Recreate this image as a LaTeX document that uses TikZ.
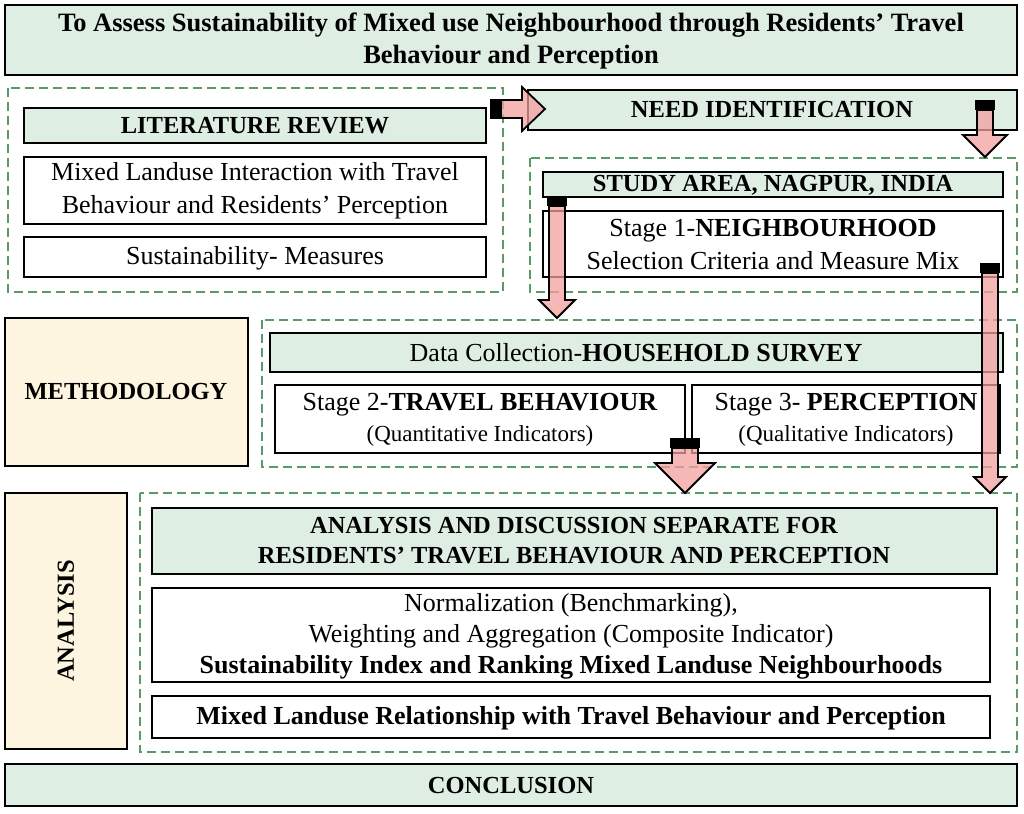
\documentclass[tikz,border=0pt]{standalone}
\usepackage{fontspec}
\setmainfont{Liberation Serif}
\definecolor{gfill}{HTML}{DFEEE3}
\definecolor{gdash}{HTML}{5A9A6A}
\definecolor{cream}{HTML}{FDF5E0}
\definecolor{pinkar}{HTML}{F4A0A0}
\newcommand{\arrdown}[5]{% x, ytop, ybot, bodyhalf, headhalf
  \fill[black] (#1-#4-2,#2) rectangle (#1+#4+2,#2+10);
  \draw[line width=1.8pt,fill=pinkar,fill opacity=0.75] (#1-#4,#2+10) -- (#1+#4,#2+10) -- (#1+#4,#3-#5) -- (#1+#5,#3-#5) -- (#1,#3) -- (#1-#5,#3-#5) -- (#1-#4,#3-#5) -- cycle;}
\begin{document}
\begin{tikzpicture}[x=1pt,y=-1pt,
  box/.style={draw,line width=1.2pt,inner sep=0pt},
  gbox/.style={box,fill=gfill},
  grp/.style={draw=gdash,dashed,line width=1.3pt,dash pattern=on 9pt off 5pt},
  txt/.style={font=\fontsize{26}{33}\selectfont,align=center},
  btxt/.style={font=\fontsize{24.5}{30}\selectfont\bfseries,align=center}]
\useasboundingbox (0,0) rectangle (1024,813);
\fill[white] (0,0) rectangle (1024,813);
% groups
\draw[grp] (8,88) rectangle (503,292);
\draw[grp] (530,158) rectangle (1017,292);
\draw[grp] (262,320) rectangle (1017,467);
\draw[grp] (140,493) rectangle (1017,752);
% boxes
\draw[gbox] (5,5) rectangle (1017,75);
\node[btxt,font=\fontsize{26.5}{32}\selectfont\bfseries] (title) at (511,41) {To Assess Sustainability of Mixed use Neighbourhood through Residents’ Travel\\Behaviour and Perception};
\draw[gbox] (24,108) rectangle (486,143);
\node[btxt] (lit) at (255,126) {LITERATURE REVIEW};
\draw[box] (24,157) rectangle (486,224);
\node[txt] (mix) at (255,191) {Mixed Landuse Interaction with Travel\\Behaviour and Residents’ Perception};
\draw[box] (24,237) rectangle (486,277);
\node[txt] (sus) at (255,258) {Sustainability- Measures};
\draw[gbox] (528,90) rectangle (1017,130);
\node[btxt] (need) at (772,110) {NEED IDENTIFICATION};
\draw[gbox] (543,172) rectangle (1003,197);
\node[btxt] (study) at (773,185) {STUDY AREA, NAGPUR, INDIA};
\draw[box] (543,211) rectangle (1003,277);
\node[txt] (st1) at (773,245) {Stage 1-\textbf{NEIGHBOURHOOD}\\Selection Criteria and Measure Mix};
\draw[box,fill=cream] (5,318) rectangle (248,466);
\node[btxt] (meth) at (126,392) {METHODOLOGY};
\draw[gbox] (270,333) rectangle (1003,372);
\node[txt] (data) at (636,353) {Data Collection-\textbf{HOUSEHOLD SURVEY}};
\draw[box] (275,385) rectangle (685,453);
\node[txt,font=\fontsize{26}{31}\selectfont] (st2) at (480,420) {Stage 2-\textbf{TRAVEL BEHAVIOUR}\\{\fontsize{23}{28}\selectfont(Quantitative Indicators)}};
\draw[box] (692,385) rectangle (1000,453);
\node[txt,font=\fontsize{26}{31}\selectfont] (st3) at (846,420) {Stage 3- \textbf{PERCEPTION}\\{\fontsize{23}{28}\selectfont(Qualitative Indicators)}};
\draw[box,fill=cream] (5,493) rectangle (127,749);
\node[btxt,rotate=90] (ana) at (66,621) {ANALYSIS};
\draw[gbox] (152,508) rectangle (997,574);
\node[btxt,font=\fontsize{24.5}{30}\selectfont\bfseries] (disc) at (574,541) {ANALYSIS AND DISCUSSION SEPARATE FOR\\RESIDENTS’ TRAVEL BEHAVIOUR AND PERCEPTION};
\draw[box] (152,588) rectangle (990,682);
\node[txt,font=\fontsize{26}{31}\selectfont] (norm) at (571,636) {Normalization (Benchmarking),\\Weighting and Aggregation (Composite Indicator)\\\textbf{Sustainability Index and Ranking Mixed Landuse Neighbourhoods}};
\draw[box] (152,696) rectangle (990,738);
\node[txt] (rel) at (571,718) {\textbf{Mixed Landuse Relationship with Travel Behaviour and Perception}};
\draw[gbox] (5,764) rectangle (1017,806);
\node[btxt] (conc) at (511,785) {CONCLUSION};
% block arrows
\fill[black] (490,99) rectangle (501,119);
\draw[line width=1.8pt,fill=pinkar,fill opacity=0.75] (501,100) -- (522,100) -- (522,87) -- (545,109) -- (522,131) -- (522,118) -- (501,118) -- cycle;
\arrdown{985}{100}{157}{8}{22}
\arrdown{557}{196}{318}{8}{18}
\arrdown{990}{263}{493}{8}{16}
\arrdown{685}{438}{493}{13}{30}
\end{tikzpicture}
\end{document}
